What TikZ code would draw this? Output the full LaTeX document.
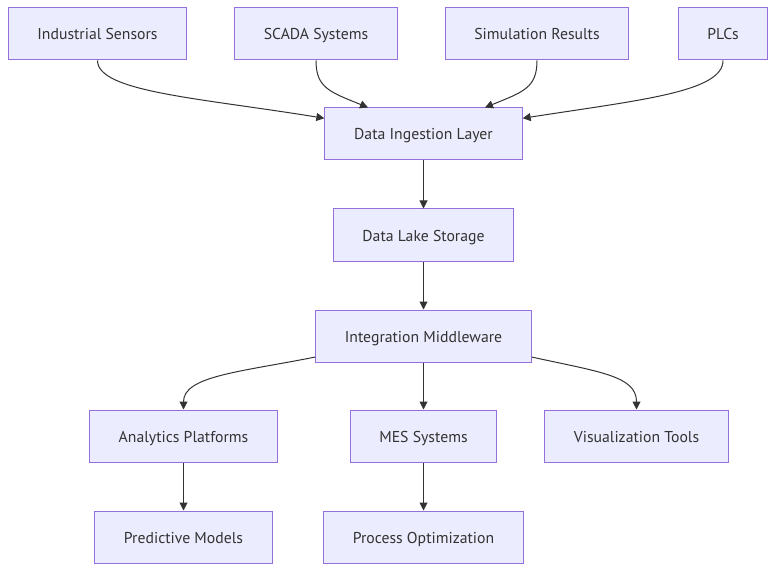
\documentclass[tikz,border=0pt]{standalone}
\usepackage{fontspec}
\setmainfont{PT Sans}
\usepackage{xcolor}
\usepackage{tikz}
\usetikzlibrary{positioning,arrows.meta}

\definecolor{boxfill}{HTML}{ECECFF}
\definecolor{boxline}{HTML}{9370DB}
\definecolor{linkcol}{HTML}{333333}

\begin{document}
\begin{tikzpicture}[
  x=0.75pt, y=-0.75pt,
  box/.style={draw=boxline, fill=boxfill, rectangle, line width=0.75pt,
    minimum height=39pt, inner xsep=22pt, text height=11pt, text depth=2pt,
    font=\fontsize{11.8}{13}\selectfont, text=linkcol},
  link/.style={draw=linkcol, line width=0.75pt, -{Triangle[length=6pt,width=6pt]}}
]
\useasboundingbox (0,0) rectangle (784,577);

% Sources
\node[box] (sens) at (97.5,34) {Industrial Sensors};
\node[box] (scada) at (316,34) {SCADA Systems};
\node[box] (sim) at (537,34) {Simulation Results};
\node[box] (plc) at (723,34) {PLCs};

% Storage chain
\node[box] (ingest) at (423.5,134) {Data Ingestion Layer};
\node[box] (lake) at (423.5,235) {Data Lake Storage};
\node[box] (mid) at (423.5,336) {Integration Middleware};

% Consumers
\node[box] (ana) at (183.5,436) {Analytics Platforms};
\node[box] (mes) at (423.5,436) {MES Systems};
\node[box] (vis) at (636.5,436) {Visualization Tools};
\node[box] (pred) at (183.5,537) {Predictive Models};
\node[box] (opt) at (423.5,537) {Process Optimization};

% Links into the ingestion layer
\draw[link] (sens.south) .. controls (97.5,92) and (200,98) .. (ingest.171);
\draw[link] (scada.south) .. controls (316,88) and (330,92) .. (ingest.north -| 368,0);
\draw[link] (sim.south) .. controls (537,88) and (523,92) .. (ingest.north -| 485,0);
\draw[link] (plc.south) .. controls (723,92) and (640,100) .. (ingest.9);

\draw[link] (ingest) -- (lake);
\draw[link] (lake) -- (mid);

% Links out of the middleware
\draw[link] (mid.191) .. controls (240,372) and (183.5,376) .. (ana.north);
\draw[link] (mid) -- (mes);
\draw[link] (mid.349) .. controls (600,372) and (636.5,376) .. (vis.north);
\draw[link] (ana) -- (pred);
\draw[link] (mes) -- (opt);

\end{tikzpicture}
\end{document}
